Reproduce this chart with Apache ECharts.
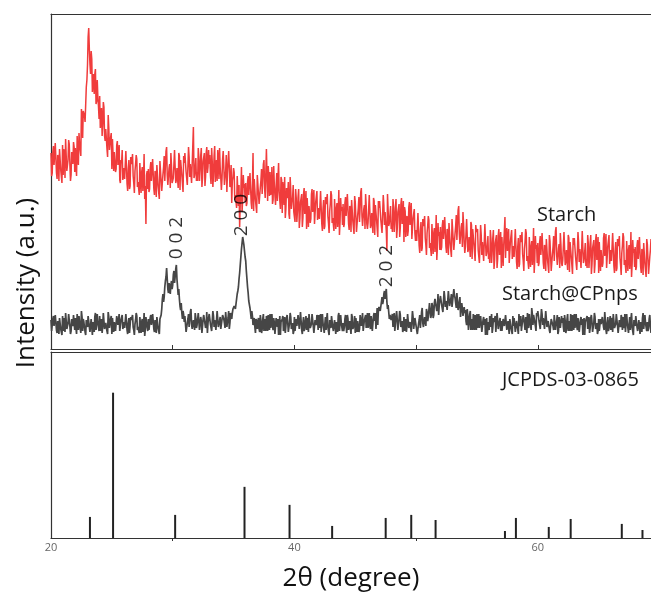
<!DOCTYPE html>
<html>
<head>
<meta charset="utf-8">
<script src="https://cdn.jsdelivr.net/npm/echarts@6/dist/echarts.min.js"></script>
<style>
  html, body { margin: 0; padding: 0; background: #fff; }
  #chart { width: 651px; height: 594px; }
</style>
</head>
<body>
<div id="chart"></div>
<script>
// XRD scan grid: 2θ from 20.00° in 0.05° steps
const scanStart = 20.0;
const scanStep = 0.05;

// Starch pattern, intensity (a.u.), one row per degree
const starchIntensity = [
  196,173,176,197,203,184,183,206,208,176,170,194,191,168,200,201,179,181,166,204, // 20
  174,200,194,171,210,193,178,179,189,209,205,185,168,174,197,196,185,207,202,177,
  201,183,173,213,193,184,216,205,199,193,240,233,211,238,237,233,227,227,262,269,
  284,312,321,300,285,275,298,290,257,268,275,255,275,280,245,248,269,252,243,230,
  253,221,230,241,213,224,247,242,213,208,220,222,200,192,234,221,199,197,212,216,
  180,210,208,178,197,197,177,180,204,208,184,182,204,169,166,189,186,199,169,168, // 25
  181,170,170,198,197,165,158,180,189,160,163,192,185,188,195,173,166,156,178,185,
  194,190,162,167,167,154,186,184,156,177,182,158,170,195,150,163,125,174,178,160,
  180,157,160,181,187,168,167,190,192,160,154,178,175,152,184,185,163,165,150,188,
  188,189,158,160,175,182,193,168,169,198,202,174,164,163,181,185,161,196,184,166,
  165,171,185,199,201,166,169,181,180,161,196,193,159,189,188,174,176,157,193,186, // 30
  196,198,177,175,164,162,202,192,172,185,183,166,167,203,222,171,174,182,191,168,
  177,168,201,192,168,179,193,201,162,171,188,189,196,163,172,196,202,176,182,199,
  185,194,174,165,201,187,162,173,193,203,167,179,189,168,199,190,170,201,182,171,
  159,170,190,198,182,164,165,178,194,157,176,188,198,182,162,165,184,146,168,172,
  181,177,149,154,154,141,173,171,143,164,122,145,157,182,137,150,174,161,165,147, // 35
  166,143,146,167,173,154,153,176,178,146,140,164,196,138,170,171,149,151,136,174,
  175,176,145,147,162,169,180,155,156,185,189,161,151,150,200,172,148,183,171,153,
  177,154,158,182,145,149,183,164,153,144,164,176,148,172,186,157,155,140,172,169,
  136,167,156,144,172,131,140,161,151,154,167,135,130,172,159,140,147,151,164,137,
  136,127,160,151,127,138,152,160,121,130,147,148,155,122,131,155,161,135,141,158, // 40
  120,151,151,122,143,144,126,130,155,160,137,136,159,125,123,147,145,158,129,128,
  141,130,130,158,157,125,118,140,149,120,123,152,145,148,155,133,126,116,138,145,
  158,154,126,131,131,118,150,148,120,141,146,122,134,159,114,127,151,138,142,124,
  145,122,125,146,152,133,132,155,157,125,119,143,140,117,149,150,128,130,115,153,
  147,148,117,119,134,141,152,127,128,157,161,133,123,122,140,144,120,155,143,125, // 45
  120,126,140,154,156,121,124,136,135,116,151,148,114,144,143,129,131,112,148,141,
  148,150,129,127,116,114,154,144,124,137,135,118,98,155,157,123,126,134,143,120,
  126,117,150,141,117,128,142,150,111,120,137,138,145,112,121,145,151,125,131,148,
  107,142,138,112,130,133,113,118,142,147,124,122,146,110,110,131,132,140,116,108,
  119,108,108,136,135,103,96,118,127,98,101,130,123,126,133,111,104,94,116,123, // 50
  133,129,101,106,106,93,125,123,95,116,121,97,109,134,89,102,126,113,117,99,
  122,99,102,123,129,110,109,132,134,102,96,120,117,94,126,127,105,107,92,130,
  129,130,99,101,116,123,134,109,110,139,143,115,105,104,122,126,102,137,125,107,
  96,102,116,130,132,97,100,112,111,92,127,124,90,120,119,105,107,88,124,117,
  118,120,99,97,86,84,124,114,94,107,105,88,89,125,127,93,96,104,113,90, // 55
  95,86,119,110,86,97,111,119,80,89,106,107,114,81,90,114,120,94,100,117,
  81,112,112,83,104,105,132,91,116,121,98,97,120,86,84,108,106,119,90,89,
  103,92,92,120,119,87,80,102,111,82,85,114,107,110,117,95,88,78,100,107,
  120,116,88,93,93,80,112,110,82,103,108,84,96,121,76,89,113,100,104,86,
  106,83,86,107,113,94,93,116,118,86,80,104,101,78,110,111,89,91,76,114, // 60
  108,109,78,80,95,102,113,88,89,118,122,94,84,83,101,105,81,116,104,86,
  83,89,103,117,119,84,87,99,98,79,114,111,77,107,106,92,94,75,111,104,
  111,113,92,90,79,77,117,107,87,100,98,81,82,118,120,86,89,97,106,83,
  90,81,114,105,81,92,106,114,75,84,101,102,109,76,85,109,115,89,95,112,
  76,107,107,78,99,100,82,86,111,116,93,92,115,81,79,103,101,114,85,84, // 65
  99,88,88,116,115,83,76,98,107,78,81,110,103,106,113,91,84,74,96,103,
  116,112,84,89,89,76,108,106,78,99,104,80,92,117,72,85,109,96,100,82,
  102,79,82,103,109,90,89,112,114,82,76,100,97,74,106,107,85,87,72,110,
  105,106,75,77,92,99,110
];

// Starch@CPnps pattern, intensity (a.u.)
const compositeIntensity = [
  29,18,19,30,33,23,22,34,35,19,16,28,27,15,31,32,20,21,14,33, // 20
  18,31,28,17,36,28,20,20,26,35,34,23,15,18,30,29,23,34,32,19,
  31,21,15,35,24,19,33,26,21,16,38,32,18,30,27,22,17,14,29,29,
  22,33,34,22,17,16,30,31,14,27,28,17,32,36,19,20,35,26,24,18,
  33,18,23,30,16,23,36,34,20,19,26,28,18,15,37,32,21,21,30,33,
  15,31,31,17,27,28,18,20,33,35,24,23,35,18,17,29,28,34,20,19, // 25
  27,21,21,35,35,19,15,26,31,16,17,32,29,30,34,22,19,14,25,29,
  36,33,19,22,22,16,32,31,16,27,30,17,23,36,13,20,32,26,28,18,
  30,19,20,31,34,24,23,35,36,20,17,29,28,16,32,33,21,22,15,30,
  28,34,40,50,55,47,52,62,68,72,81,70,60,56,66,61,55,64,68,60,
  64,74,78,66,72,80,84,70,62,54,60,50,43,39,46,36,30,38,34,27, // 30
  33,33,17,19,26,30,35,22,23,37,40,25,20,20,29,31,19,36,31,21,
  24,23,36,37,19,21,32,28,16,18,30,34,34,32,21,24,37,16,26,31,
  35,35,25,24,18,18,38,33,22,29,28,19,20,38,39,22,23,28,32,20,
  18,21,34,33,30,26,21,37,36,22,27,31,38,20,26,36,33,30,36,40,
  38,43,45,40,42,50,55,58,62,70,76,84,92,100,106,112,110,104,98,92, // 35
  88,78,70,62,56,48,46,41,36,30,38,33,24,28,31,22,16,30,27,20,
  28,31,20,17,34,28,16,20,30,35,18,23,30,18,33,29,18,34,26,19,
  35,21,20,35,23,19,31,26,15,16,31,32,22,30,14,22,33,14,27,29,
  30,33,18,22,32,16,23,31,34,27,17,17,26,36,32,20,21,26,15,18,
  32,18,16,30,23,23,34,34,20,19,37,28,19,15,26,32,18,21,28,33, // 40
  19,31,27,17,35,28,21,20,25,35,35,23,16,18,29,29,24,34,31,19,
  34,21,22,35,17,19,35,26,21,16,25,32,19,30,36,22,22,14,29,29,
  21,33,35,22,18,16,29,31,15,27,27,17,33,36,18,20,34,26,25,18,
  26,18,22,30,34,23,16,34,30,19,18,28,28,15,35,32,20,21,24,33,
  16,31,30,17,28,28,17,20,34,35,23,23,36,18,18,29,27,34,21,19, // 45
  36,21,19,36,23,20,33,28,18,19,33,36,28,36,20,30,41,24,39,42,
  44,38,40,47,52,45,48,55,58,50,56,60,47,40,44,37,30,34,36,29,
  32,35,22,24,36,18,25,33,38,29,19,19,30,38,34,22,23,28,17,20,
  32,18,24,30,17,23,35,34,21,19,27,28,17,15,38,32,20,21,31,33,
  31,31,15,17,25,29,34,21,23,37,41,26,22,22,32,34,23,40,37,28, // 50
  32,32,46,48,31,34,46,43,31,34,46,50,51,49,38,41,55,34,44,49,
  53,53,44,43,37,37,58,52,42,48,48,39,41,58,60,43,45,50,55,42,
  40,43,60,54,51,46,41,56,54,39,43,45,52,32,32,46,41,33,31,42,
  36,39,28,24,40,33,19,25,34,38,19,25,30,19,35,30,19,34,25,19,
  35,21,20,35,21,19,33,26,17,16,29,32,24,30,14,22,31,14,27,29, // 55
  19,33,27,22,35,16,21,31,27,27,33,17,16,36,29,20,24,26,31,18,
  28,18,20,30,32,23,23,34,34,19,17,28,26,15,30,32,21,21,15,33,
  23,31,33,17,18,28,29,20,15,35,27,23,33,18,20,29,34,34,25,19,
  32,22,16,36,25,21,35,28,24,19,41,35,24,34,33,27,23,18,36,33,
  38,38,28,27,20,21,40,35,24,31,29,20,20,38,37,22,22,28,30,19, // 60
  16,18,30,30,28,23,19,34,32,19,25,28,34,15,18,32,27,21,21,33,
  26,31,22,17,34,28,16,20,30,35,18,23,28,18,35,29,18,34,26,19,
  35,21,20,35,23,19,31,26,17,16,29,32,24,30,14,22,31,14,27,29,
  28,33,20,22,32,16,21,31,34,27,17,17,26,36,32,20,19,26,15,18,
  30,18,16,30,25,23,32,34,22,19,37,28,19,15,26,32,18,21,28,33, // 65
  19,31,27,17,35,28,21,20,25,35,33,23,16,18,29,29,22,34,31,19,
  32,21,24,35,17,19,35,26,21,16,25,32,19,30,36,22,22,14,29,29,
  23,33,33,22,18,16,29,31,15,27,27,17,31,36,20,20,34,26,25,18,
  27,18,21,30,34,23,16
];

// Reflection indices marked on the composite pattern
const peakNames = ['0 0 2', '2 0 0', '2 0 2'];
const peakAngles = [30.3, 35.7, 47.6];
const peakLabelLevels = [111, 134, 83];

// Reference card JCPDS-03-0865: line positions (2θ) and relative intensities
const cardAngles = [23.2, 25.1, 30.2, 35.9, 39.6, 43.1, 47.5, 49.6, 51.6, 57.3, 58.2, 60.9, 62.7, 66.9, 68.6];
const cardIntensity = [14.5, 100, 15.9, 35.2, 22.8, 8.3, 13.8, 15.9, 12.4, 4.8, 13.8, 7.6, 13.1, 9.7, 5.5];

const xMin = 20, xMax = 69.3;
const topTicks = [30, 40, 50, 60];
const bottomTicks = [30, 50];
const bottomLabels = [20, 40, 60];

function toPairs(values) {
  return values.map((v, i) => [+(scanStart + i * scanStep).toFixed(2), v]);
}

const chart = echarts.init(document.getElementById('chart'), null, { renderer: 'canvas' });
const FONT = '"Open Sans", "Liberation Sans", sans-serif';
const axisLineStyle = { color: '#333', width: 1.2 };

chart.setOption({
  animation: false,
  backgroundColor: '#fff',
  grid: [
    { left: 51, top: 14, width: 600, height: 335 },
    { left: 51, top: 352, width: 600, height: 186 }
  ],
  xAxis: [
    {
      gridIndex: 0, type: 'value', min: xMin, max: xMax, interval: 10, position: 'bottom',
      axisLine: { show: true, onZero: false, lineStyle: axisLineStyle },
      axisTick: { show: true, inside: true, length: 4, customValues: topTicks, lineStyle: { color: '#333' } },
      axisLabel: { show: false }, splitLine: { show: false }
    },
    {
      gridIndex: 0, type: 'value', min: xMin, max: xMax, position: 'top',
      axisLine: { show: true, onZero: false, lineStyle: axisLineStyle },
      axisTick: { show: false }, axisLabel: { show: false }, splitLine: { show: false }
    },
    {
      gridIndex: 1, type: 'value', min: xMin, max: xMax, interval: 10, position: 'bottom',
      axisLine: { show: true, onZero: false, lineStyle: axisLineStyle },
      axisTick: { show: true, length: 3, customValues: bottomTicks, lineStyle: { color: '#333' } },
      axisLabel: { show: true, customValues: bottomLabels, fontSize: 11, color: '#666', margin: 4, fontFamily: FONT },
      splitLine: { show: false },
      name: '2θ (degree)', nameLocation: 'middle', nameGap: 28,
      nameTextStyle: { fontSize: 26, color: '#111', fontFamily: FONT }
    },
    {
      gridIndex: 1, type: 'value', min: xMin, max: xMax, position: 'top',
      axisLine: { show: true, onZero: false, lineStyle: axisLineStyle },
      axisTick: { show: false }, axisLabel: { show: false }, splitLine: { show: false }
    }
  ],
  yAxis: [
    {
      gridIndex: 0, type: 'value', min: 0, max: 335,
      axisLine: { show: true, onZero: false, lineStyle: axisLineStyle },
      axisTick: { show: false }, axisLabel: { show: false }, splitLine: { show: false }
    },
    {
      gridIndex: 1, type: 'value', min: 0, max: 128,
      axisLine: { show: true, onZero: false, lineStyle: axisLineStyle },
      axisTick: { show: false }, axisLabel: { show: false }, splitLine: { show: false }
    }
  ],
  series: [
    {
      name: 'Starch', type: 'line', xAxisIndex: 0, yAxisIndex: 0, z: 2,
      data: toPairs(starchIntensity), showSymbol: false, silent: true,
      lineStyle: { color: '#f03c3c', width: 1.5 }
    },
    {
      name: 'Starch@CPnps', type: 'line', xAxisIndex: 0, yAxisIndex: 0, z: 2,
      data: toPairs(compositeIntensity), showSymbol: false, silent: true,
      lineStyle: { color: '#464646', width: 1.7 }
    },
    {
      name: 'hkl', type: 'scatter', xAxisIndex: 0, yAxisIndex: 0, z: 10, zlevel: 1,
      data: peakNames.map((n, i) => ({ name: n, value: [peakAngles[i], peakLabelLevels[i]] })),
      symbolSize: 2, itemStyle: { color: 'rgba(0,0,0,0)' }, silent: true,
      label: {
        show: true, position: 'inside', rotate: 90, formatter: p => p.name,
        fontSize: 19, color: '#000', fontFamily: FONT
      }
    },
    {
      name: 'JCPDS-03-0865', type: 'bar', xAxisIndex: 2, yAxisIndex: 1,
      data: cardAngles.map((a, i) => [a, cardIntensity[i]]),
      barWidth: 2, silent: true, itemStyle: { color: '#222' }
    }
  ],
  graphic: [
    {
      type: 'text', x: 27, y: 283, rotation: Math.PI / 2, silent: true,
      style: { text: 'Intensity (a.u.)', fontSize: 26, fontFamily: FONT, fill: '#111', textAlign: 'center', textVerticalAlign: 'middle' }
    },
    {
      type: 'text', x: 537, y: 215, silent: true,
      style: { text: 'Starch', fontSize: 20, fontFamily: FONT, fill: '#1a1a1a', textAlign: 'left', textVerticalAlign: 'middle' }
    },
    {
      type: 'text', x: 502, y: 294, silent: true,
      style: { text: 'Starch@CPnps', fontSize: 20, fontFamily: FONT, fill: '#1a1a1a', textAlign: 'left', textVerticalAlign: 'middle' }
    },
    {
      type: 'text', x: 502, y: 380, silent: true,
      style: { text: 'JCPDS-03-0865', fontSize: 20, fontFamily: FONT, fill: '#1a1a1a', textAlign: 'left', textVerticalAlign: 'middle' }
    }
  ]
});
</script>
</body>
</html>
